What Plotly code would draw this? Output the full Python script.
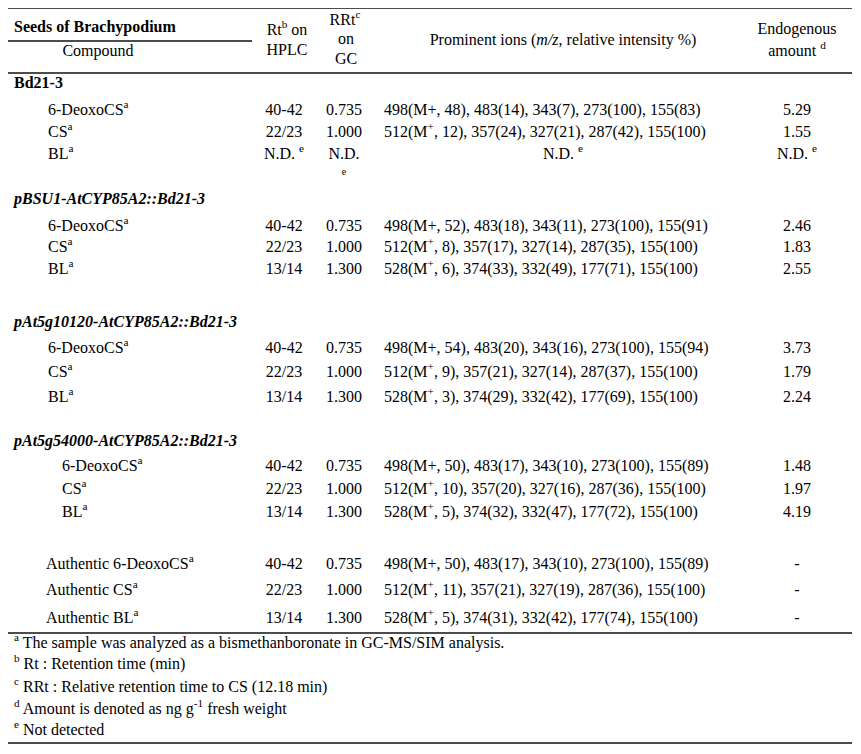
import plotly.graph_objects as go

# ---- table content ----
groups = ["Bd21-3", "pBSU1-AtCYP85A2::Bd21-3",
          "pAt5g10120-AtCYP85A2::Bd21-3", "pAt5g54000-AtCYP85A2::Bd21-3"]
compounds = ["6-DeoxoCS", "CS", "BL"]
rt_hplc = ["40-42", "22/23", "13/14"]
rrt_gc = ["0.735", "1.000", "1.300"]

ions_bd21 = ["498(M+, 48), 483(14), 343(7), 273(100), 155(83)",
             "512(M<sup>+</sup>, 12), 357(24), 327(21), 287(42), 155(100)",
             "N.D."]
ions_pbsu1 = ["498(M+, 52), 483(18), 343(11), 273(100), 155(91)",
              "512(M<sup>+</sup>, 8), 357(17), 327(14), 287(35), 155(100)",
              "528(M<sup>+</sup>, 6), 374(33), 332(49), 177(71), 155(100)"]
ions_p10120 = ["498(M+, 54), 483(20), 343(16), 273(100), 155(94)",
               "512(M<sup>+</sup>, 9), 357(21), 327(14), 287(37), 155(100)",
               "528(M<sup>+</sup>, 3), 374(29), 332(42), 177(69), 155(100)"]
ions_p54000 = ["498(M+, 50), 483(17), 343(10), 273(100), 155(89)",
               "512(M<sup>+</sup>, 10), 357(20), 327(16), 287(36), 155(100)",
               "528(M<sup>+</sup>, 5), 374(32), 332(47), 177(72), 155(100)"]
ions_authentic = ["498(M+, 50), 483(17), 343(10), 273(100), 155(89)",
                  "512(M<sup>+</sup>, 11), 357(21), 327(19), 287(36), 155(100)",
                  "528(M<sup>+</sup>, 5), 374(31), 332(42), 177(74), 155(100)"]

amount_bd21 = ["5.29", "1.55", "N.D."]
amount_pbsu1 = ["2.46", "1.83", "2.55"]
amount_p10120 = ["3.73", "1.79", "2.24"]
amount_p54000 = ["1.48", "1.97", "4.19"]
amount_authentic = ["-", "-", "-"]

footnotes = ["<sup>a</sup> The sample was analyzed as a bismethanboronate in GC-MS/SIM analysis.",
             "<sup>b</sup> Rt : Retention time (min)",
             "<sup>c</sup> RRt : Relative retention time to CS (12.18 min)",
             "<sup>d</sup> Amount is denoted as ng g<sup>-1</sup> fresh weight",
             "<sup>e</sup> Not detected"]

ions_all = [ions_bd21, ions_pbsu1, ions_p10120, ions_p54000]
amount_all = [amount_bd21, amount_pbsu1, amount_p10120, amount_p54000]

# ---- layout positions (data coords == window pixels; page body has an 8px margin) ----
FONT = "Liberation Serif, Times New Roman, serif"
FS = 16
group_y = [84, 200, 323, 442]
row_y = [[111, 133, 155], [227, 248, 270], [349, 373, 398], [467, 490, 513]]
indent = [48, 48, 48, 62]
auth_y = [565, 591, 619]
foot_y = [644, 665, 688, 710, 731]
X_RT, X_RRT, X_ION, X_AMT = 284, 344, 384, 797

left, center, small = [], [], []   # (x, y, text)


def nd(s):
    return s + " <sup>e</sup>" if s == "N.D." else s


# header
left.append((14, 28, "<b>Seeds of Brachypodium</b>"))
center.append((98, 52, "Compound"))
center.append((287, 31, "Rt<sup>b</sup> on"))
center.append((287, 51, "HPLC"))
center.append((345, 21, "RRt<sup>c</sup>"))
center.append((346, 40, "on"))
center.append((346, 60, "GC"))
center.append((563, 41, "Prominent ions (<i>m/z</i>, relative intensity %)"))
center.append((797, 30, "Endogenous"))
center.append((797, 52, "amount <sup>d</sup>"))

for g, name in enumerate(groups):
    label = "<b>%s</b>" % name if g == 0 else "<b><i>%s</i></b>" % name
    left.append((14, group_y[g], label))
    for i, comp in enumerate(compounds):
        y = row_y[g][i]
        left.append((indent[g], y, comp + "<sup>a</sup>"))
        if g == 0 and i == 2:
            center.append((X_RT, y, nd("N.D.")))
            center.append((X_RRT, y, "N.D."))
            small.append((X_RRT, y + 17, "e"))
            center.append((563, y, nd(ions_all[g][i])))
        else:
            center.append((X_RT, y, rt_hplc[i]))
            center.append((X_RRT, y, rrt_gc[i]))
            left.append((X_ION, y, ions_all[g][i]))
        center.append((X_AMT, y, nd(amount_all[g][i])))

for i, comp in enumerate(compounds):
    y = auth_y[i]
    left.append((46, y, "Authentic " + comp + "<sup>a</sup>"))
    center.append((X_RT, y, rt_hplc[i]))
    center.append((X_RRT, y, rrt_gc[i]))
    left.append((X_ION, y, ions_authentic[i]))
    center.append((X_AMT, y, amount_authentic[i]))

for y, t in zip(foot_y, footnotes):
    left.append((14, y, t))

fig = go.Figure()
for items, pos, size in [(left, "middle right", FS), (center, "middle center", FS),
                         (small, "middle center", 10)]:
    fig.add_trace(go.Scatter(
        x=[it[0] for it in items],
        y=[it[1] for it in items],
        text=[it[2] for it in items],
        mode="text",
        textposition=pos,
        textfont=dict(family=FONT, size=size, color="#000"),
        cliponaxis=False,
        hoverinfo="skip",
        showlegend=False,
    ))

# rules
rules = [(8, 852, 8), (8, 252, 41), (8, 852, 73), (8, 852, 633), (8, 852, 743)]
for x0, x1, y in rules:
    fig.add_shape(type="line", x0=x0, x1=x1, y0=y, y1=y, xref="x", yref="y",
                  line=dict(color="#111", width=1.3))

fig.update_layout(
    width=853, height=746,
    margin=dict(l=0, r=0, t=0, b=0),
    paper_bgcolor="white", plot_bgcolor="white",
    xaxis=dict(range=[8, 861], visible=False, fixedrange=True),
    yaxis=dict(range=[754, 8], visible=False, fixedrange=True),
)

fig.write_html("out.html")
